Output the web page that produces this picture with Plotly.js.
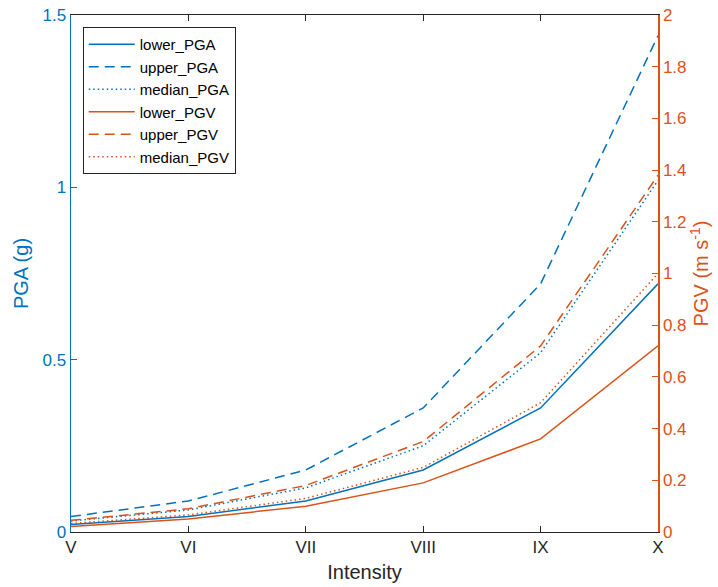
<!DOCTYPE html>
<html>
<head>
<meta charset="utf-8">
<script src="https://cdn.plot.ly/plotly-3.0.1.min.js"></script>
<style>html,body{margin:0;padding:0;background:#fff;}#chart{width:718px;height:587px;}</style>
</head>
<body>
<div id="chart"></div>
<script>
const intensity = ['V', 'VI', 'VII', 'VIII', 'IX', 'X'];
const lowerPGA  = [0.022, 0.045, 0.09, 0.18, 0.36, 0.72];
const upperPGA  = [0.045, 0.09, 0.18, 0.36, 0.72, 1.44];
const medianPGA = [0.032, 0.064, 0.128, 0.25, 0.52, 1.02];
const lowerPGV  = [0.021, 0.05, 0.10, 0.19, 0.36, 0.72];
const upperPGV  = [0.045, 0.09, 0.18, 0.35, 0.72, 1.38];
const medianPGV = [0.033, 0.066, 0.13, 0.25, 0.50, 1.0];

const BLUE = '#0072BD', ORANGE = '#D95319', DARK = '#262626';
const FONT = 'Liberation Sans, Arial, Helvetica, sans-serif';
const DASH = '10px,6px', DOT = '1.5px,3px';

function tr(name, y, color, dash, axis) {
  return {x: intensity, y: y, name: name, type: 'scatter', mode: 'lines',
    yaxis: axis, line: {color: color, width: 1.5, dash: dash}};
}
const data = [
  tr('lower_PGA', lowerPGA, BLUE, 'solid', 'y'),
  tr('upper_PGA', upperPGA, BLUE, DASH, 'y'),
  tr('median_PGA', medianPGA, BLUE, DOT, 'y'),
  tr('lower_PGV', lowerPGV, ORANGE, 'solid', 'y2'),
  tr('upper_PGV', upperPGV, ORANGE, DASH, 'y2'),
  tr('median_PGV', medianPGV, ORANGE, DOT, 'y2')
];

const layout = {
  width: 718, height: 587,
  margin: {l: 71, r: 60, t: 15, b: 55},
  paper_bgcolor: '#fff', plot_bgcolor: '#fff',
  font: {family: FONT, size: 17, color: DARK},
  showlegend: true,
  legend: {x: 0.02, y: 0.977, xanchor: 'left', yanchor: 'top',
    bgcolor: '#fff', bordercolor: DARK, borderwidth: 1, itemwidth: 46,
    font: {family: FONT, size: 15, color: '#000'}, tracegroupgap: 0},
  xaxis: {type: 'category', range: [0, 5], showgrid: false, zeroline: false,
    showline: true, linecolor: DARK, linewidth: 1, mirror: 'ticks',
    ticks: 'inside', ticklen: 6, tickcolor: DARK,
    tickfont: {family: FONT, size: 17, color: DARK},
    title: {text: 'Intensity', font: {family: FONT, size: 20, color: DARK}, standoff: 8}},
  yaxis: {range: [0, 1.5], dtick: 0.5, showgrid: false, zeroline: false,
    showline: true, linecolor: BLUE, linewidth: 1.5,
    ticks: 'inside', ticklen: 6, tickcolor: BLUE,
    tickfont: {family: FONT, size: 17, color: BLUE},
    title: {text: 'PGA (g)', font: {family: FONT, size: 20, color: BLUE}, standoff: 8}},
  yaxis2: {range: [0, 2], dtick: 0.2, overlaying: 'y', side: 'right',
    showgrid: false, zeroline: false,
    showline: true, linecolor: ORANGE, linewidth: 1.5,
    ticks: 'inside', ticklen: 6, tickcolor: ORANGE,
    tickfont: {family: FONT, size: 17, color: ORANGE},
    title: {text: 'PGV (m s<sup>-1</sup>)', font: {family: FONT, size: 20, color: ORANGE}, standoff: 2}}
};

Plotly.newPlot('chart', data, layout, {displayModeBar: false, staticPlot: true});
</script>
</body>
</html>
